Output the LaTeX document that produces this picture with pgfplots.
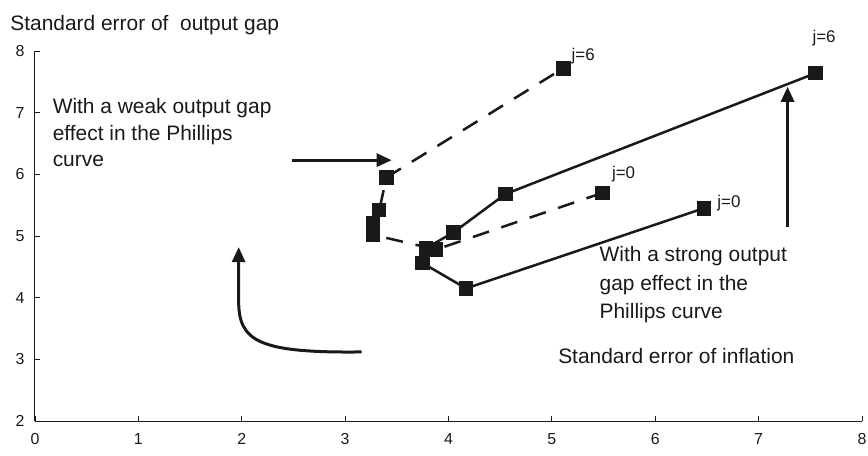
\documentclass[border=0pt]{standalone}
\usepackage{pgfplots}
\pgfplotsset{compat=1.18}
\usepackage{fontspec}
\setmainfont{Liberation Sans}
\usetikzlibrary{arrows.meta}
\definecolor{ink}{RGB}{25,25,25}
\begin{document}
\begin{tikzpicture}
\begin{axis}[
  name=ax,
  scale only axis,
  width=827bp, height=370bp,
  xmin=0, xmax=8, ymin=2, ymax=8,
  axis x line=bottom, axis y line=left,
  axis line style={-, line width=1bp, ink},
  xtick={0,...,8}, ytick={2,...,8},
  tick align=inside,
  major tick length=5bp,
  tick style={line width=0.8bp, ink},
  tick label style={font=\fontsize{16}{19}\selectfont, text=ink},
  /pgf/number format/assume math mode=true,
  xticklabel style={yshift=-9bp},
  yticklabel style={xshift=-7bp},
  clip=false,
]
% strong output gap effect (solid)
\addplot[ink, line width=2.5bp, mark=square*, mark size=6bp, mark options={solid, fill=ink}]
  coordinates {(6.47,5.45) (4.17,4.15) (3.75,4.56) (3.78,4.80) (4.05,5.06) (4.55,5.68) (7.55,7.64)};
% weak output gap effect (dashed)
\addplot[ink, line width=2.5bp, dash pattern=on 17bp off 13bp, mark=square*, mark size=6bp, mark options={solid, fill=ink}]
  coordinates {(5.49,5.70) (3.88,4.78) (3.27,5.02) (3.27,5.20) (3.33,5.42) (3.40,5.95) (5.11,7.72)};

% arrows
\draw[ink, line width=3bp, -{Triangle[length=15bp,width=13bp]}] (axis cs:2.49,6.23) -- (axis cs:3.45,6.23);
\draw[ink, line width=3bp, -{Triangle[length=15bp,width=13bp]}] (axis cs:7.28,5.14) -- (axis cs:7.28,7.42);
\draw[ink, line width=3bp, -{Triangle[length=15bp,width=13bp]}] (axis cs:3.16,3.12) .. controls (axis cs:2.15,3.10) and (axis cs:1.97,3.30) .. (axis cs:1.97,3.95) -- (axis cs:1.97,4.82);

% labels
\begin{scope}[every node/.style={inner sep=0pt, anchor=base west, text=ink}]
\node[font=\fontsize{21}{25}\selectfont] at (axis cs:-0.24,8.34) {Standard error of\ \ output gap};
\node[font=\fontsize{21}{25}\selectfont] at (axis cs:0.17,6.99) {With a weak output gap};
\node[font=\fontsize{21}{25}\selectfont] at (axis cs:0.17,6.55) {effect in the Phillips};
\node[font=\fontsize{21}{25}\selectfont] at (axis cs:0.17,6.12) {curve};
\node[font=\fontsize{21}{25}\selectfont] at (axis cs:5.46,4.58) {With a strong output};
\node[font=\fontsize{21}{25}\selectfont] at (axis cs:5.46,4.11) {gap effect in the};
\node[font=\fontsize{21}{25}\selectfont] at (axis cs:5.46,3.67) {Phillips curve};
\node[font=\fontsize{21}{25}\selectfont] at (axis cs:5.06,2.94) {Standard error of inflation};
\node[font=\fontsize{17}{20}\selectfont] at (axis cs:5.19,7.85) {j=6};
\node[font=\fontsize{17}{20}\selectfont] at (axis cs:7.52,8.14) {j=6};
\node[font=\fontsize{17}{20}\selectfont] at (axis cs:5.58,5.94) {j=0};
\node[font=\fontsize{17}{20}\selectfont] at (axis cs:6.60,5.47) {j=0};
\end{scope}
\end{axis}
\pgfresetboundingbox
\path[use as bounding box] ([shift={(-35bp,-34bp)}]ax.south west) rectangle ([shift={(6bp,51bp)}]ax.north east);
\end{tikzpicture}
\end{document}
